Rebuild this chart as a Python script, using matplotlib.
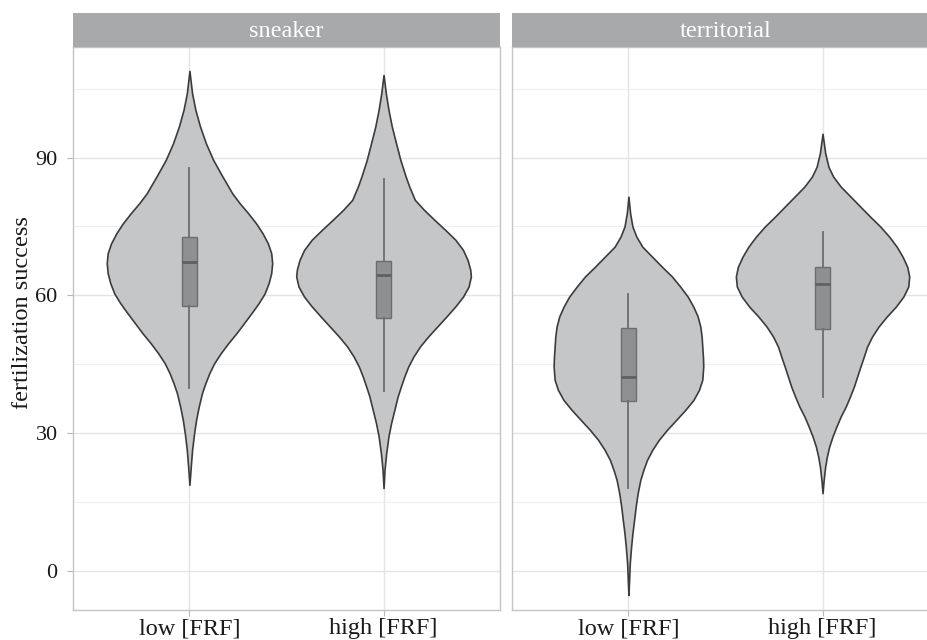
import matplotlib
matplotlib.use("Agg")
import matplotlib.pyplot as plt
import numpy as np

plt.rcParams["font.family"] = ["Liberation Serif", "DejaVu Serif"]

# facets and groups
facets = ["sneaker", "territorial"]
groups = ["low [FRF]", "high [FRF]"]

# violin outlines: y values and relative half-widths
sneaker_low_y = [108.9, 104.0, 100.4, 96.8, 93.1, 89.5, 85.9, 82.2, 80.1, 77.9, 75.7, 73.5,
                 71.3, 69.2, 67.0, 64.8, 62.6, 60.4, 58.3, 56.1, 53.9, 51.7, 49.6, 47.4,
                 45.2, 43.0, 40.8, 38.7, 35.7, 32.8, 29.9, 26.3, 22.7, 18.7]
sneaker_low_d = [0, 8, 18, 32, 50, 72, 100, 130, 152, 178, 202, 222,
                 238, 248, 251, 248, 240, 228, 210, 188, 165, 142, 118, 95,
                 75, 60, 48, 38, 28, 20, 14, 8, 4, 0]
sneaker_high_y = [108.0, 104.0, 100.4, 96.8, 93.1, 89.5, 85.9, 83.7, 80.8, 78.6, 76.4, 74.2,
                  72.1, 69.9, 67.7, 65.6, 64.1, 61.9, 59.7, 57.6, 55.4, 53.2, 51.0, 48.9,
                  46.7, 44.5, 42.3, 40.2, 38.0, 35.1, 32.2, 29.3, 25.6, 22.0, 18.0]
sneaker_high_d = [0, 7, 15, 25, 38, 51, 67, 78, 95, 123, 155, 188,
                  218, 241, 255, 263, 265, 258, 241, 218, 191, 163, 135, 111,
                  91, 75, 63, 53, 43, 33, 23, 15, 8, 3, 0]
terr_low_y = [81.5, 77.9, 75.0, 72.8, 70.6, 68.4, 66.2, 64.1, 61.9, 59.7, 57.5, 55.4,
              53.2, 51.0, 48.8, 46.6, 44.5, 41.6, 39.4, 37.2, 35.0, 32.8, 30.7, 28.5,
              26.3, 24.1, 21.9, 19.8, 16.9, 14.0, 11.0, 8.1, 5.2, 1.6, -2.0, -5.3]
terr_low_d = [0, 5, 12, 24, 42, 72, 102, 132, 157, 180, 197, 210,
              218, 222, 224, 226, 227, 224, 214, 197, 172, 144, 117, 92,
              72, 56, 45, 36, 28, 22, 17, 12, 8, 4, 2, 0]
terr_high_y = [95.2, 91.0, 88.0, 85.9, 83.7, 81.5, 79.3, 77.1, 75.0, 72.8, 70.6, 68.4,
               66.2, 64.1, 61.9, 59.7, 57.5, 55.4, 53.2, 51.0, 48.8, 46.6, 44.5, 42.3,
               40.1, 37.9, 35.7, 33.6, 31.4, 29.2, 27.0, 24.8, 22.7, 19.5, 16.9]
terr_high_d = [0, 8, 18, 32, 55, 85, 115, 145, 175, 202, 225, 243,
               257, 263, 260, 245, 222, 195, 170, 150, 135, 125, 115, 105,
               95, 83, 70, 55, 42, 30, 20, 13, 8, 3, 0]

# box statistics: whisker low, q1, median, q3, whisker high
sneaker_box = [[39.9, 57.7, 67.3, 72.8, 87.7], [39.2, 55.1, 64.4, 67.5, 85.3]]
terr_box = [[18.0, 37.0, 42.3, 52.9, 60.2], [37.9, 52.6, 62.5, 66.2, 73.9]]

violins = {
    "sneaker": [(sneaker_low_y, sneaker_low_d), (sneaker_high_y, sneaker_high_d)],
    "territorial": [(terr_low_y, terr_low_d), (terr_high_y, terr_high_d)],
}
boxes = {"sneaker": sneaker_box, "territorial": terr_box}

W, H = 928, 640
fig = plt.figure(figsize=(W / 100, H / 100), dpi=100)

panel_w = 427 / W
panel_b = 1 - 610 / H
panel_h = (610 - 47) / H
strip_h = 34 / H
lefts = [73 / W, 512 / W]

gmax = max(max(d) for v in violins.values() for _, d in v)

for i, facet in enumerate(facets):
    ax = fig.add_axes([lefts[i], panel_b, panel_w, panel_h])
    pos = np.arange(1, len(groups) + 1)

    stats = []
    widths = []
    for (yy, dd), bx in zip(violins[facet], boxes[facet]):
        yy = np.array(yy, dtype=float)
        dd = np.array(dd, dtype=float)
        order = np.argsort(yy)
        stats.append(dict(coords=yy[order], vals=dd[order], mean=bx[2], median=bx[2],
                          min=yy.min(), max=yy.max()))
        # area-style scaling: widest violin gets 0.9
        widths.append(0.9 * dd.max() / gmax)

    parts = ax.violin(stats, positions=pos, widths=widths, showmeans=False,
                      showextrema=False, showmedians=False)
    for body in parts["bodies"]:
        body.set_facecolor("#c5c6c8")
        body.set_edgecolor("#3c3c3e")
        body.set_linewidth(1.2)
        body.set_alpha(1)
        body.set_zorder(2)

    bstats = [dict(whislo=b[0], q1=b[1], med=b[2], q3=b[3], whishi=b[4], fliers=[])
              for b in boxes[facet]]
    ax.bxp(bstats, positions=pos, widths=0.075, showfliers=False, showcaps=False,
           patch_artist=True,
           boxprops=dict(facecolor="#8f9092", edgecolor="#6c6d6f", linewidth=1.0),
           medianprops=dict(color="#5f6062", linewidth=2.0),
           whiskerprops=dict(color="#6c6d6f", linewidth=1.3))

    ax.set_xlim(0.4, 2.6)
    ax.set_ylim(-8.56, 114.1)
    ax.set_xticks(pos)
    ax.set_xticklabels(groups, fontsize=17.5, color="#1a1a1a")
    ax.set_yticks([0, 30, 60, 90])
    ax.set_yticks([15, 45, 75, 105], minor=True)
    ax.grid(True, which="major", color="#e4e4e4", linewidth=1.0, zorder=0)
    ax.grid(True, which="minor", axis="y", color="#efefef", linewidth=0.8, zorder=0)
    ax.set_axisbelow(True)
    ax.tick_params(which="major", length=4, color="#b8b8b8", width=0.8)
    ax.tick_params(axis="x", pad=2)
    ax.tick_params(axis="y", pad=7)
    ax.tick_params(which="minor", length=0)
    if i == 0:
        ax.set_yticklabels(["0", "30", "60", "90"], fontsize=16, color="#1a1a1a")
        ax.set_ylabel("fertilization success", fontsize=17.5, color="#1a1a1a")
        ax.yaxis.set_label_coords(-0.094, 0.529)
    else:
        ax.tick_params(axis="y", which="both", left=False, labelleft=False)
    for s in ax.spines.values():
        s.set_color("#c4c4c4")
        s.set_linewidth(1.0)

    sax = fig.add_axes([lefts[i], panel_b + panel_h, panel_w, strip_h])
    sax.set_facecolor("#a8a9ab")
    sax.set_xticks([])
    sax.set_yticks([])
    for s in sax.spines.values():
        s.set_visible(False)
    sax.text(0.5, 0.45, facet, ha="center", va="center", fontsize=17.5, color="white",
             transform=sax.transAxes)

fig.savefig("out.png", dpi=100)
